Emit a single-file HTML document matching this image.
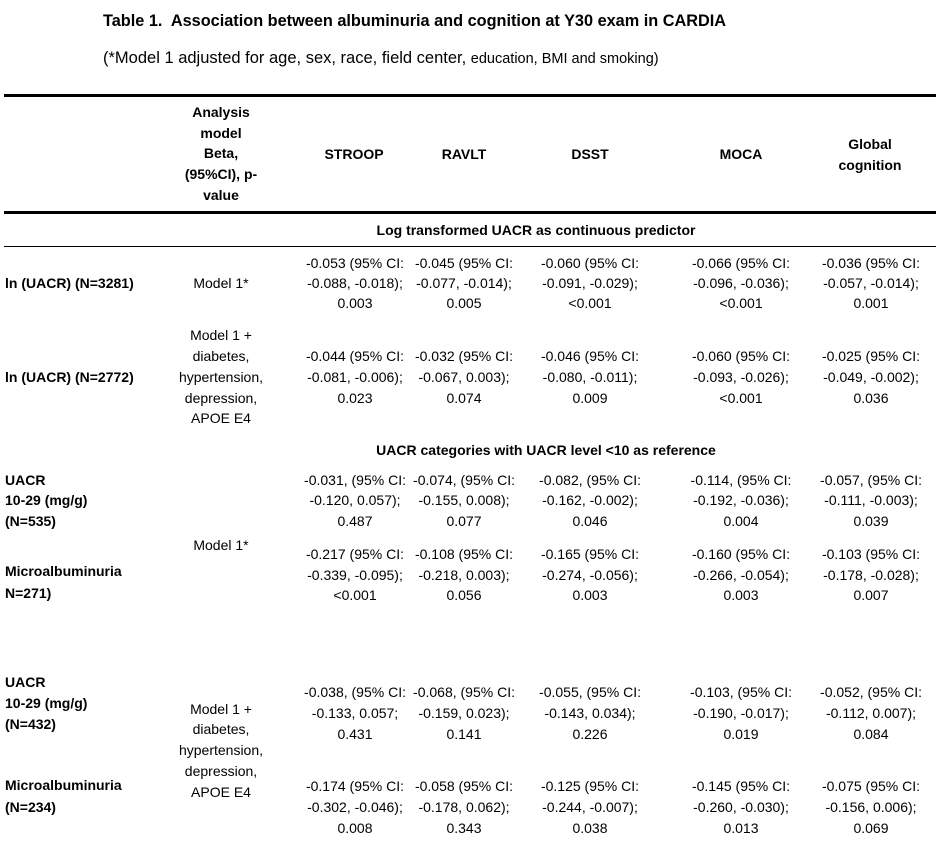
<!DOCTYPE html>
<html><head><meta charset="utf-8"><style>
body{margin:0;background:#fff;width:946px;height:844px;position:relative;overflow:hidden;font-family:"Liberation Sans",Arial,sans-serif;color:#000;font-size:14px;}
div{position:absolute;white-space:nowrap;line-height:16px;}
.c{width:200px;text-align:center;margin-top:-8px;}
.l{margin-top:-8px;}
.b{font-weight:bold;}
.h{position:absolute;left:4px;width:932px;background:#000;}
</style></head><body>
<div class="l b" style="left:103px;top:21px;font-size:16.3px">Table 1.&nbsp; Association between albuminuria and cognition at Y30 exam in CARDIA</div>
<div class="l" style="left:103px;top:58px;font-size:16.5px">(*Model 1 adjusted for age, sex, race, field center, <span style="font-size:14.5px">education, BMI and smoking)</span></div>
<div class="h" style="top:94px;height:3px"></div>
<div class="h" style="top:211px;height:3px"></div>
<div class="h" style="top:246px;height:1px"></div>

<div class="c b" style="left:121px;top:112px">Analysis</div>
<div class="c b" style="left:121px;top:133px">model</div>
<div class="c b" style="left:121px;top:153px">Beta,</div>
<div class="c b" style="left:121px;top:174px">(95%CI), p-</div>
<div class="c b" style="left:121px;top:195px">value</div>
<div class="c b" style="left:254px;top:154px">STROOP</div>
<div class="c b" style="left:364px;top:154px">RAVLT</div>
<div class="c b" style="left:490px;top:154px">DSST</div>
<div class="c b" style="left:641px;top:154px">MOCA</div>
<div class="c b" style="left:770px;top:144px">Global</div>
<div class="c b" style="left:770px;top:165px">cognition</div>

<div class="c b" style="left:366px;top:230px;width:340px">Log transformed UACR as continuous predictor</div>

<div class="l b" style="left:5px;top:283px">ln (UACR) (N=3281)</div>
<div class="c" style="left:121px;top:283px">Model 1*</div>
<div class="c" style="left:255px;top:263px">-0.053 (95% CI:</div><div class="c" style="left:255px;top:283px">-0.088, -0.018);</div><div class="c" style="left:255px;top:303px">0.003</div>
<div class="c" style="left:364px;top:263px">-0.045 (95% CI:</div><div class="c" style="left:364px;top:283px">-0.077, -0.014);</div><div class="c" style="left:364px;top:303px">0.005</div>
<div class="c" style="left:490px;top:263px">-0.060 (95% CI:</div><div class="c" style="left:490px;top:283px">-0.091, -0.029);</div><div class="c" style="left:490px;top:303px">&lt;0.001</div>
<div class="c" style="left:641px;top:263px">-0.066 (95% CI:</div><div class="c" style="left:641px;top:283px">-0.096, -0.036);</div><div class="c" style="left:641px;top:303px">&lt;0.001</div>
<div class="c" style="left:771px;top:263px">-0.036 (95% CI:</div><div class="c" style="left:771px;top:283px">-0.057, -0.014);</div><div class="c" style="left:771px;top:303px">0.001</div>

<div class="l b" style="left:5px;top:377px">ln (UACR) (N=2772)</div>
<div class="c" style="left:121px;top:335px">Model 1 +</div><div class="c" style="left:121px;top:356px">diabetes,</div><div class="c" style="left:121px;top:377px">hypertension,</div><div class="c" style="left:121px;top:398px">depression,</div><div class="c" style="left:121px;top:418px">APOE E4</div>
<div class="c" style="left:255px;top:356px">-0.044 (95% CI:</div><div class="c" style="left:255px;top:377px">-0.081, -0.006);</div><div class="c" style="left:255px;top:398px">0.023</div>
<div class="c" style="left:364px;top:356px">-0.032 (95% CI:</div><div class="c" style="left:364px;top:377px">-0.067, 0.003);</div><div class="c" style="left:364px;top:398px">0.074</div>
<div class="c" style="left:490px;top:356px">-0.046 (95% CI:</div><div class="c" style="left:490px;top:377px">-0.080, -0.011);</div><div class="c" style="left:490px;top:398px">0.009</div>
<div class="c" style="left:641px;top:356px">-0.060 (95% CI:</div><div class="c" style="left:641px;top:377px">-0.093, -0.026);</div><div class="c" style="left:641px;top:398px">&lt;0.001</div>
<div class="c" style="left:771px;top:356px">-0.025 (95% CI:</div><div class="c" style="left:771px;top:377px">-0.049, -0.002);</div><div class="c" style="left:771px;top:398px">0.036</div>

<div class="c b" style="left:296px;top:450px;width:500px">UACR categories with UACR level &lt;10 as reference</div>

<div class="l b" style="left:5px;top:480px">UACR</div><div class="l b" style="left:5px;top:500px">10-29 (mg/g)</div><div class="l b" style="left:5px;top:521px">(N=535)</div>
<div class="c" style="left:121px;top:545px">Model 1*</div>
<div class="c" style="left:255px;top:480px">-0.031, (95% CI:</div><div class="c" style="left:255px;top:500px">-0.120, 0.057);</div><div class="c" style="left:255px;top:521px">0.487</div>
<div class="c" style="left:364px;top:480px">-0.074, (95% CI:</div><div class="c" style="left:364px;top:500px">-0.155, 0.008);</div><div class="c" style="left:364px;top:521px">0.077</div>
<div class="c" style="left:490px;top:480px">-0.082, (95% CI:</div><div class="c" style="left:490px;top:500px">-0.162, -0.002);</div><div class="c" style="left:490px;top:521px">0.046</div>
<div class="c" style="left:641px;top:480px">-0.114, (95% CI:</div><div class="c" style="left:641px;top:500px">-0.192, -0.036);</div><div class="c" style="left:641px;top:521px">0.004</div>
<div class="c" style="left:771px;top:480px">-0.057, (95% CI:</div><div class="c" style="left:771px;top:500px">-0.111, -0.003);</div><div class="c" style="left:771px;top:521px">0.039</div>

<div class="l b" style="left:5px;top:571px">Microalbuminuria</div><div class="l b" style="left:5px;top:593px">N=271)</div>
<div class="c" style="left:255px;top:554px">-0.217 (95% CI:</div><div class="c" style="left:255px;top:575px">-0.339, -0.095);</div><div class="c" style="left:255px;top:595px">&lt;0.001</div>
<div class="c" style="left:364px;top:554px">-0.108 (95% CI:</div><div class="c" style="left:364px;top:575px">-0.218, 0.003);</div><div class="c" style="left:364px;top:595px">0.056</div>
<div class="c" style="left:490px;top:554px">-0.165 (95% CI:</div><div class="c" style="left:490px;top:575px">-0.274, -0.056);</div><div class="c" style="left:490px;top:595px">0.003</div>
<div class="c" style="left:641px;top:554px">-0.160 (95% CI:</div><div class="c" style="left:641px;top:575px">-0.266, -0.054);</div><div class="c" style="left:641px;top:595px">0.003</div>
<div class="c" style="left:771px;top:554px">-0.103 (95% CI:</div><div class="c" style="left:771px;top:575px">-0.178, -0.028);</div><div class="c" style="left:771px;top:595px">0.007</div>

<div class="l b" style="left:5px;top:682px">UACR</div><div class="l b" style="left:5px;top:703px">10-29 (mg/g)</div><div class="l b" style="left:5px;top:724px">(N=432)</div>
<div class="c" style="left:121px;top:709px">Model 1 +</div><div class="c" style="left:121px;top:729px">diabetes,</div><div class="c" style="left:121px;top:750px">hypertension,</div><div class="c" style="left:121px;top:771px">depression,</div><div class="c" style="left:121px;top:792px">APOE E4</div>
<div class="c" style="left:255px;top:692px">-0.038, (95% CI:</div><div class="c" style="left:255px;top:713px">-0.133, 0.057;</div><div class="c" style="left:255px;top:734px">0.431</div>
<div class="c" style="left:364px;top:692px">-0.068, (95% CI:</div><div class="c" style="left:364px;top:713px">-0.159, 0.023);</div><div class="c" style="left:364px;top:734px">0.141</div>
<div class="c" style="left:490px;top:692px">-0.055, (95% CI:</div><div class="c" style="left:490px;top:713px">-0.143, 0.034);</div><div class="c" style="left:490px;top:734px">0.226</div>
<div class="c" style="left:641px;top:692px">-0.103, (95% CI:</div><div class="c" style="left:641px;top:713px">-0.190, -0.017);</div><div class="c" style="left:641px;top:734px">0.019</div>
<div class="c" style="left:771px;top:692px">-0.052, (95% CI:</div><div class="c" style="left:771px;top:713px">-0.112, 0.007);</div><div class="c" style="left:771px;top:734px">0.084</div>

<div class="l b" style="left:5px;top:785px">Microalbuminuria</div><div class="l b" style="left:5px;top:807px">(N=234)</div>
<div class="c" style="left:255px;top:786px">-0.174 (95% CI:</div><div class="c" style="left:255px;top:807px">-0.302, -0.046);</div><div class="c" style="left:255px;top:828px">0.008</div>
<div class="c" style="left:364px;top:786px">-0.058 (95% CI:</div><div class="c" style="left:364px;top:807px">-0.178, 0.062);</div><div class="c" style="left:364px;top:828px">0.343</div>
<div class="c" style="left:490px;top:786px">-0.125 (95% CI:</div><div class="c" style="left:490px;top:807px">-0.244, -0.007);</div><div class="c" style="left:490px;top:828px">0.038</div>
<div class="c" style="left:641px;top:786px">-0.145 (95% CI:</div><div class="c" style="left:641px;top:807px">-0.260, -0.030);</div><div class="c" style="left:641px;top:828px">0.013</div>
<div class="c" style="left:771px;top:786px">-0.075 (95% CI:</div><div class="c" style="left:771px;top:807px">-0.156, 0.006);</div><div class="c" style="left:771px;top:828px">0.069</div>
</body></html>
